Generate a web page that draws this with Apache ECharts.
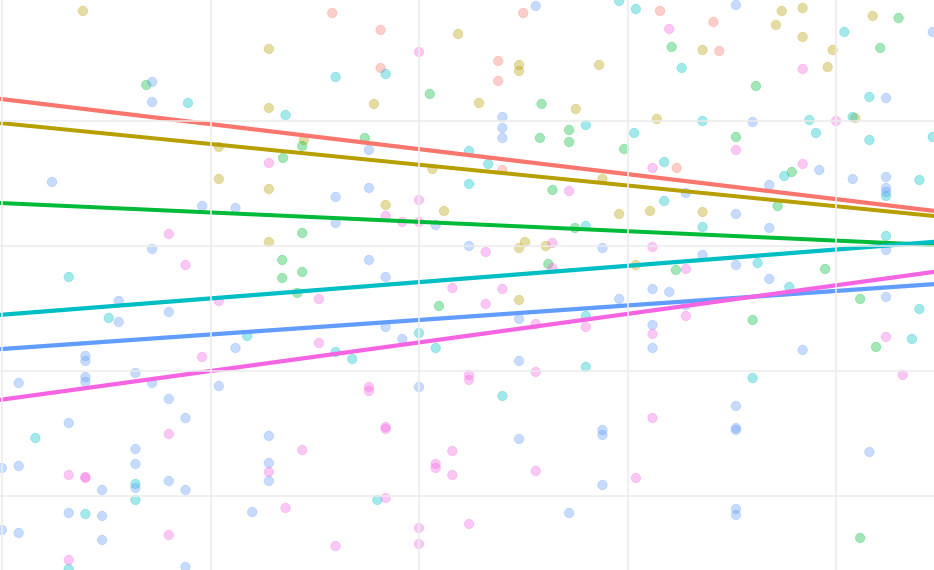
<!DOCTYPE html>
<html>
<head>
<meta charset="utf-8">
<script src="https://cdn.jsdelivr.net/npm/echarts@6/dist/echarts.min.js"></script>
<style>
  html, body { margin: 0; padding: 0; background: #fff; }
  #chart { width: 934px; height: 570px; }
</style>
</head>
<body>
<div id="chart"></div>
<script>
// Six groups, each a cloud of points plus its fitted straight line.
const groups = ['g1', 'g2', 'g3', 'g4', 'g5', 'g6'];
const colors = ['#F8766D', '#B79F00', '#00BA38', '#00BFC4', '#619CFF', '#F564E3'];

// fitted lines: y = intercept + slope * x
const intercepts = [79.36, 74.56, 58.58, 36.24, 29.42, 19.26];
const slopes = [-2.0, -1.661, -0.75, 1.304, 1.159, 2.2875];
const lineRange = [-0.5, 11.8];

// visible window and grid line positions
const xRange = [-0.024, 11.175];
const yRange = [-14.8, 99.2];
const xTicks = [0, 2.5, 5, 7.5, 10];
const yTicks = [0, 25, 50, 75];

const pointsG1 = [
  [3.96, 96.6], [4.54, 93.2], [4.54, 85.6], [6.25, 96.6], [7.89, 97.0], [5.95, 87.0],
  [5.95, 83.0], [6.0, 65.2], [8.09, 65.6], [8.53, 94.8], [8.6, 89.0]
];
const pointsG2 = [
  [0.97, 97.0], [2.6, 69.8], [2.6, 63.4], [3.2, 89.4], [5.47, 92.4], [3.2, 77.6],
  [4.46, 78.4], [3.62, 71.2], [5.16, 65.4], [3.2, 61.4], [6.2, 86.2], [6.2, 85.0],
  [7.16, 86.2], [5.72, 78.6], [6.88, 77.4], [7.85, 75.4], [8.4, 89.2], [7.2, 63.4],
  [9.35, 97.0], [9.6, 97.6], [9.28, 94.2], [9.6, 91.8], [9.96, 89.2], [9.9, 85.8],
  [10.44, 96.0], [10.23, 75.6], [4.6, 58.2], [5.3, 57.0], [3.2, 50.8], [7.4, 56.4],
  [7.77, 57.0], [8.4, 56.8], [6.2, 49.6], [6.27, 50.8], [6.52, 50.0], [7.6, 46.2],
  [6.2, 39.2]
];
const pointsG3 = [
  [1.73, 82.2], [5.13, 80.4], [4.35, 71.6], [3.6, 70.0], [3.37, 67.6], [8.03, 89.8],
  [6.47, 78.4], [6.8, 73.2], [6.45, 71.6], [6.8, 70.8], [7.46, 69.4], [6.6, 61.2],
  [9.04, 82.0], [10.75, 95.6], [10.53, 89.6], [8.8, 71.8], [9.47, 64.8], [3.6, 52.6],
  [3.36, 47.2], [3.36, 43.6], [3.6, 44.8], [3.54, 40.6], [5.24, 38.0], [6.87, 53.6],
  [6.55, 46.4], [8.08, 45.2], [9.3, 58.0], [9.87, 45.4], [10.29, 39.4], [9.0, 35.2],
  [10.48, 29.8], [10.29, -8.4]
];
const pointsG4 = [
  [2.23, 78.6], [4.0, 83.8], [4.6, 84.4], [3.4, 76.2], [5.6, 69.0], [5.6, 62.4],
  [7.4, 99.0], [7.6, 97.4], [8.15, 85.6], [7.0, 74.2], [8.4, 75.0], [7.58, 72.6],
  [5.83, 66.4], [7.94, 66.8], [10.1, 92.8], [10.4, 79.8], [9.68, 75.2], [10.2, 75.8],
  [9.76, 72.6], [10.4, 71.2], [11.16, 71.8], [9.38, 64.0], [11.0, 63.2], [0.8, 43.8],
  [1.28, 35.6], [2.94, 32.0], [5.0, 32.6], [5.2, 29.6], [4.0, 28.8], [4.2, 27.4],
  [7.94, 59.0], [7.0, 54.0], [8.4, 53.8], [7.0, 36.0], [7.0, 25.8], [10.6, 60.0],
  [10.6, 52.0], [9.06, 46.6], [9.44, 41.8], [11.0, 37.4], [10.91, 31.4], [9.0, 23.6],
  [0.4, 11.6], [1.6, 2.4], [1.6, -0.8], [1.0, -3.6], [0.8, -14.6], [4.5, -0.8],
  [6.0, 20.0]
];
const pointsG5 = [
  [1.8, 82.8], [1.8, 78.8], [0.6, 62.8], [4.4, 69.2], [4.4, 61.6], [6.4, 98.0],
  [6.0, 75.8], [6.0, 73.6], [6.0, 71.6], [8.8, 98.2], [11.16, 92.8], [10.6, 79.6],
  [9.0, 74.8], [9.8, 65.2], [9.2, 62.2], [10.2, 63.4], [10.6, 63.8], [10.6, 61.6],
  [2.4, 58.0], [2.8, 57.6], [1.8, 49.4], [1.4, 39.0], [1.4, 34.8], [2.0, 36.8],
  [1.0, 28.0], [1.0, 27.0], [2.8, 29.6], [1.6, 24.6], [1.0, 23.8], [1.0, 22.8],
  [0.2, 22.6], [4.0, 59.8], [4.0, 54.6], [5.2, 54.2], [5.6, 50.0], [4.4, 47.2],
  [4.6, 43.8], [4.6, 33.8], [4.8, 31.4], [8.2, 60.6], [7.2, 49.6], [8.4, 48.2],
  [7.4, 39.4], [7.8, 41.4], [8.0, 40.8], [6.2, 35.4], [8.2, 38.2], [7.8, 34.2],
  [7.8, 29.6], [6.2, 27.0], [10.6, 60.8], [8.8, 56.4], [9.2, 53.6], [10.6, 49.2],
  [8.8, 46.2], [9.2, 43.4], [10.6, 39.8], [9.6, 29.2], [1.8, 22.6], [2.6, 22.0],
  [2.0, 19.4], [0.8, 14.6], [2.2, 15.6], [1.6, 9.4], [1.6, 6.4], [0.0, 5.6],
  [0.2, 6.0], [1.2, 1.2], [1.6, 1.6], [2.0, 3.0], [2.2, 1.2], [0.8, -3.4],
  [1.2, -4.0], [0.0, -6.8], [0.2, -7.4], [1.2, -8.8], [2.2, -14.2], [5.0, 21.8],
  [3.2, 12.0], [3.2, 6.6], [3.2, 3.0], [3.0, -3.2], [6.2, 11.4], [7.2, 13.2],
  [7.2, 12.2], [7.2, 2.2], [6.8, -3.4], [8.8, 18.0], [8.8, 13.6], [8.8, 13.2],
  [10.4, 8.8], [8.8, -2.6], [8.8, -3.8]
];
const pointsG6 = [
  [5.0, 88.8], [8.0, 93.4], [3.2, 66.6], [7.8, 65.6], [9.6, 85.4], [10.0, 75.0],
  [8.8, 69.2], [9.6, 66.4], [2.0, 52.4], [2.2, 46.2], [2.6, 39.0], [2.4, 27.8],
  [6.8, 61.0], [5.0, 59.2], [4.6, 56.0], [4.8, 54.8], [5.0, 54.8], [3.8, 39.4],
  [5.4, 41.6], [3.8, 30.6], [5.6, 24.2], [5.6, 23.2], [5.8, 48.8], [6.6, 50.6],
  [7.8, 49.8], [6.6, 45.6], [8.2, 45.4], [6.0, 41.4], [5.8, 38.4], [6.4, 34.4],
  [7.0, 33.8], [8.2, 36.0], [7.8, 32.4], [6.4, 24.8], [10.6, 31.8], [10.8, 24.2],
  [2.0, 12.4], [0.8, 4.2], [1.0, 3.6], [1.0, 3.8], [2.0, -7.8], [0.8, -12.8],
  [4.4, 21.8], [4.4, 21.0], [4.6, 13.8], [4.6, 13.4], [3.6, 9.2], [3.2, 4.8],
  [5.4, 9.0], [5.2, 6.4], [5.2, 5.6], [5.4, 4.2], [4.6, -0.4], [3.4, -2.4],
  [5.6, -5.6], [5.0, -6.4], [5.0, -9.6], [4.0, -10.0], [7.8, 15.6], [6.4, 5.0],
  [7.6, 3.6]
];
const pointSets = [pointsG1, pointsG2, pointsG3, pointsG4, pointsG5, pointsG6];

function fade(hex, a) {
  const n = parseInt(hex.slice(1), 16);
  return `rgba(${(n >> 16) & 255},${(n >> 8) & 255},${n & 255},${a})`;
}

// grid lines go on an empty series underneath everything else
const gridSeries = {
  type: 'line',
  data: [],
  z: 0,
  silent: true,
  markLine: {
    silent: true,
    symbol: ['none', 'none'],
    label: { show: false },
    lineStyle: { color: '#ebebeb', width: 1.6, type: 'solid' },
    emphasis: { disabled: true },
    data: [...xTicks.map(v => ({ xAxis: v })), ...yTicks.map(v => ({ yAxis: v }))],
  },
};

const scatterSeries = groups.map((g, i) => ({
  name: g,
  type: 'scatter',
  data: pointSets[i],
  symbolSize: 9.5,
  itemStyle: { color: fade(colors[i], 0.45), borderColor: fade(colors[i], 0.35), borderWidth: 1 },
  silent: true,
  z: 2,
}));

const lineSeries = groups.map((g, i) => ({
  name: g + ' fit',
  type: 'line',
  data: lineRange.map(x => [x, intercepts[i] + slopes[i] * x]),
  showSymbol: false,
  lineStyle: { color: colors[i], width: 4.2 },
  silent: true,
  z: 3,
}));

const chart = echarts.init(document.getElementById('chart'), null, { renderer: 'canvas' });
chart.setOption({
  animation: false,
  backgroundColor: '#ffffff',
  grid: { left: 0, top: 0, right: 0, bottom: 0 },
  xAxis: {
    type: 'value', min: xRange[0], max: xRange[1],
    axisLine: { show: false }, axisTick: { show: false }, axisLabel: { show: false },
    splitLine: { show: false },
  },
  yAxis: {
    type: 'value', min: yRange[0], max: yRange[1],
    axisLine: { show: false }, axisTick: { show: false }, axisLabel: { show: false },
    splitLine: { show: false },
  },
  series: [gridSeries, ...scatterSeries, ...lineSeries],
});
</script>
</body>
</html>
